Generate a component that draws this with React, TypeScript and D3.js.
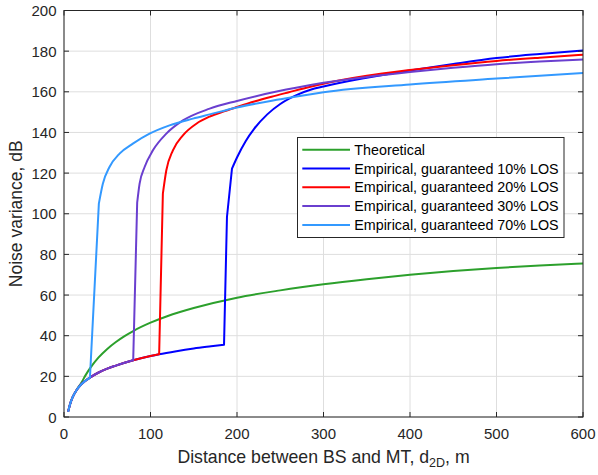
import React from "react";
import * as d3 from "d3";

const xTicks = [0, 100, 200, 300, 400, 500, 600];
const yTicks = [0, 20, 40, 60, 80, 100, 120, 140, 160, 180, 200];

const seriesNames = [
  "Theoretical",
  "Empirical, guaranteed 10% LOS",
  "Empirical, guaranteed 20% LOS",
  "Empirical, guaranteed 30% LOS",
  "Empirical, guaranteed 70% LOS",
];
const seriesColors = ["#2ca02c", "#0000ff", "#ff0000", "#6a3fcf", "#3399ff"];

// theoretical curve
const theoD = [5, 7, 10, 15, 20, 25, 30, 40, 50, 60, 70, 80, 100, 120, 150, 200, 250, 300, 350, 400, 450, 500, 550, 600];
const theoV = [3, 6.3, 9.8, 13.6, 16.8, 20.6, 23.9, 29.3, 33.5, 36.9, 39.8, 42.3, 46.4, 49.7, 53.6, 58.7, 62.3, 65.3, 67.8, 70, 71.8, 73.3, 74.5, 75.5];

// shared lower branch of the empirical curves
const lowD = [5, 7, 10, 15, 20, 30, 40, 50, 60, 80, 100, 110, 130, 150, 170, 185];
const lowV = [3, 6.3, 9.8, 13.5, 16.1, 19.4, 21.9, 23.8, 25.3, 27.9, 30, 30.9, 32.4, 33.7, 34.8, 35.6];

// distance at which each empirical curve leaves the lower branch
const jumpAt = [185, 110, 80, 30];
// number of leading upper points joined by straight segments (the jump)
const jumpPoints = [2, 1, 1, 1];

// upper branches
const los10D = [188.4, 194.2, 200, 210, 220, 235, 250, 270, 285, 300, 350, 400, 450, 500, 550, 600];
const los10V = [98.4, 122.2, 127.7, 135.7, 141.9, 148.9, 154, 158.6, 161, 162.6, 166.9, 170.5, 173.7, 176.6, 178.6, 180.3];

const los20D = [114.3, 118.3, 125.9, 137.5, 153, 168.4, 185, 200, 220, 240, 260, 285, 300, 350, 400, 450, 500, 550, 600];
const los20V = [109.9, 121.4, 131.2, 138.6, 144.3, 147.8, 150.4, 152.5, 155.2, 157.6, 159.8, 162.5, 164, 167.9, 170.7, 173.1, 175.2, 176.8, 178.2];

const los30D = [84.6, 87.4, 93.2, 102.8, 118.3, 137.5, 168.4, 200, 250, 285, 300, 350, 400, 450, 500, 550, 600];
const los30V = [105.5, 114.8, 123, 131.2, 139.4, 145.9, 151.7, 155.5, 160.5, 163.3, 164.4, 167.3, 169.7, 171.8, 173.6, 174.9, 175.9];

const los70D = [40.3, 44.9, 52.6, 64.2, 79.6, 98.9, 122, 149, 168.4, 200, 250, 300, 400, 500, 600];
const los70V = [105, 114.8, 123, 129.6, 134.5, 139.4, 143.5, 146.8, 148.9, 152.3, 156.3, 159.8, 163.6, 166.5, 169.2];

const W = 598;
const H = 475;
const left = 64;
const right = 583;
const top = 10.5;
const bottom = 417;
const FONT = "'Liberation Sans', Arial, Helvetica, sans-serif";

type Pt = [number, number];

function zip(d: number[], v: number[]): Pt[] {
  return d.map((x, i) => [x, v[i]] as Pt);
}

export default function App() {
  const x = d3.scaleLinear().domain([0, 600]).range([left, right]);
  const y = d3.scaleLinear().domain([0, 200]).range([bottom, top]);
  const smooth = d3
    .line<Pt>()
    .x((p) => x(p[0]))
    .y((p) => y(p[1]))
    .curve(d3.curveMonotoneX);
  const straight = d3
    .line<Pt>()
    .x((p) => x(p[0]))
    .y((p) => y(p[1]));

  const low = zip(lowD, lowV);
  const uppers = [zip(los10D, los10V), zip(los20D, los20V), zip(los30D, los30V), zip(los70D, los70V)];

  // each series is a list of [pathString]
  const paths: { d: string; color: string }[] = [];
  paths.push({ d: smooth(zip(theoD, theoV)) || "", color: seriesColors[0] });
  uppers.forEach((u, i) => {
    const color = seriesColors[i + 1];
    const lower = low.filter((p) => p[0] <= jumpAt[i]);
    const base = lower[lower.length - 1];
    const k = jumpPoints[i];
    const jump = [base, ...u.slice(0, k)];
    const upper = u.slice(k - 1);
    const d = (smooth(lower) || "") + (straight(jump) || "") + (smooth(upper) || "");
    paths.push({ d, color });
  });

  const legX = 297.5;
  const legY = 137.5;
  const legW = 266.5;
  const legH = 100;
  const rowH = 18.8;

  return (
    <svg
      width={W}
      height={H}
      style={{ position: "absolute", left: 0, top: 0, background: "#fff" }}
      fontFamily={FONT}
    >
      <rect x={0} y={0} width={W} height={H} fill="#fff" />
      <defs>
        <clipPath id="plotclip">
          <rect x={left} y={top} width={right - left} height={bottom - top} />
        </clipPath>
      </defs>
      {/* grid */}
      <g stroke="#dedede" strokeWidth={1}>
        {xTicks.map((t) => (
          <line key={"gx" + t} x1={x(t)} x2={x(t)} y1={top} y2={bottom} />
        ))}
        {yTicks.map((t) => (
          <line key={"gy" + t} x1={left} x2={right} y1={y(t)} y2={y(t)} />
        ))}
      </g>
      {/* curves */}
      <g clipPath="url(#plotclip)" fill="none" strokeWidth={2} strokeLinejoin="round" strokeLinecap="round">
        {paths.map((p, i) => (
          <path key={"s" + i} d={p.d} stroke={p.color} />
        ))}
      </g>
      {/* box and ticks */}
      <g stroke="#262626" strokeWidth={1} fill="none">
        <rect x={left} y={top} width={right - left} height={bottom - top} />
        {xTicks.map((t) => (
          <g key={"tx" + t}>
            <line x1={x(t)} x2={x(t)} y1={bottom} y2={bottom - 5} />
            <line x1={x(t)} x2={x(t)} y1={top} y2={top + 5} />
          </g>
        ))}
        {yTicks.map((t) => (
          <g key={"ty" + t}>
            <line x1={left} x2={left + 5} y1={y(t)} y2={y(t)} />
            <line x1={right} x2={right - 5} y1={y(t)} y2={y(t)} />
          </g>
        ))}
      </g>
      {/* tick labels */}
      <g fill="#262626" fontSize={15}>
        {xTicks.map((t) => (
          <text key={"lx" + t} x={x(t)} y={439} textAnchor="middle">
            {t}
          </text>
        ))}
        {yTicks.map((t) => (
          <text key={"ly" + t} x={56.5} y={y(t) + 5.5} textAnchor="end">
            {t}
          </text>
        ))}
      </g>
      {/* axis labels */}
      <text x={(left + right) / 2} y={463} textAnchor="middle" fontSize={17.7} fill="#262626">
        Distance between BS and MT, d
        <tspan dy={4} fontSize={12.5}>
          2D
        </tspan>
        <tspan dy={-4}>, m</tspan>
      </text>
      <text
        transform={`translate(22,${(top + bottom) / 2}) rotate(-90)`}
        textAnchor="middle"
        fontSize={17.5}
        fill="#262626"
      >
        Noise variance, dB
      </text>
      {/* legend */}
      <g>
        <rect x={legX} y={legY} width={legW} height={legH} fill="#fff" stroke="#262626" strokeWidth={1} />
        {seriesNames.map((n, i) => {
          const cy = 149.7 + i * rowH;
          return (
            <g key={"lg" + i}>
              <line x1={302.3} x2={350} y1={cy} y2={cy} stroke={seriesColors[i]} strokeWidth={2} />
              <text x={354.3} y={cy + 5} fontSize={14.3} fill="#000">
                {n}
              </text>
            </g>
          );
        })}
      </g>
    </svg>
  );
}
